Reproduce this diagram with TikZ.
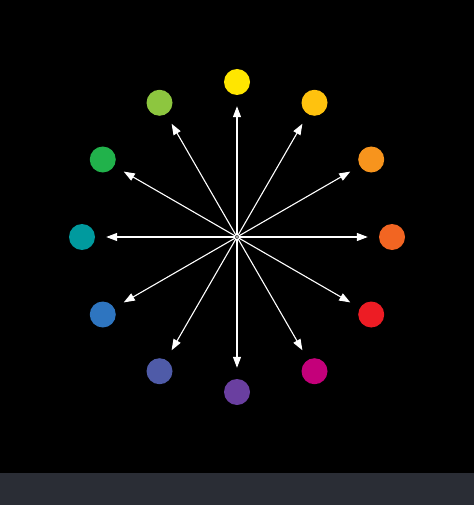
\documentclass[tikz,border=0pt]{standalone}
\usetikzlibrary{arrows.meta,calc}
\definecolor{bgbar}{HTML}{2A2D35}
\definecolor{cA}{HTML}{FFE600}
\definecolor{cB}{HTML}{FFC20E}
\definecolor{cC}{HTML}{F7941D}
\definecolor{cD}{HTML}{F26522}
\definecolor{cE}{HTML}{ED1C24}
\definecolor{cF}{HTML}{C4007A}
\definecolor{cG}{HTML}{6A3FA0}
\definecolor{cH}{HTML}{4F5BA8}
\definecolor{cI}{HTML}{2E75C0}
\definecolor{cJ}{HTML}{009A9E}
\definecolor{cK}{HTML}{21B24B}
\definecolor{cL}{HTML}{8DC63F}
\tikzset{
  dot/.style={circle, inner sep=0pt, minimum size=26pt, draw=none},
  ray/.style={draw=white, line width=1.1pt, -{Triangle[length=11pt,width=8pt]}, shorten >=11pt},
  hub/.style={circle, inner sep=0pt, minimum size=3pt, fill=gray!70}
}
\begin{document}
\begin{tikzpicture}[x=1pt,y=-1pt]
\useasboundingbox (0,0) rectangle (474,505);
\fill[black] (0,0) rectangle (474,473);
\fill[bgbar] (0,473) rectangle (474,505);
\node[hub] (o) at (237,237) {};
\foreach \n/\a/\c in {1/-90/cA,2/-60/cB,3/-30/cC,4/0/cD,5/30/cE,6/60/cF,7/90/cG,8/120/cH,9/150/cI,10/180/cJ,11/210/cK,12/240/cL}{
  \node[dot, fill=\c] (c\n) at ($(237,237)+(\a:155)$) {};
}
\foreach \n in {1,...,12}{
  \draw[ray] (o) -- (c\n);
}
\node[hub] at (o) {};
\end{tikzpicture}
\end{document}
